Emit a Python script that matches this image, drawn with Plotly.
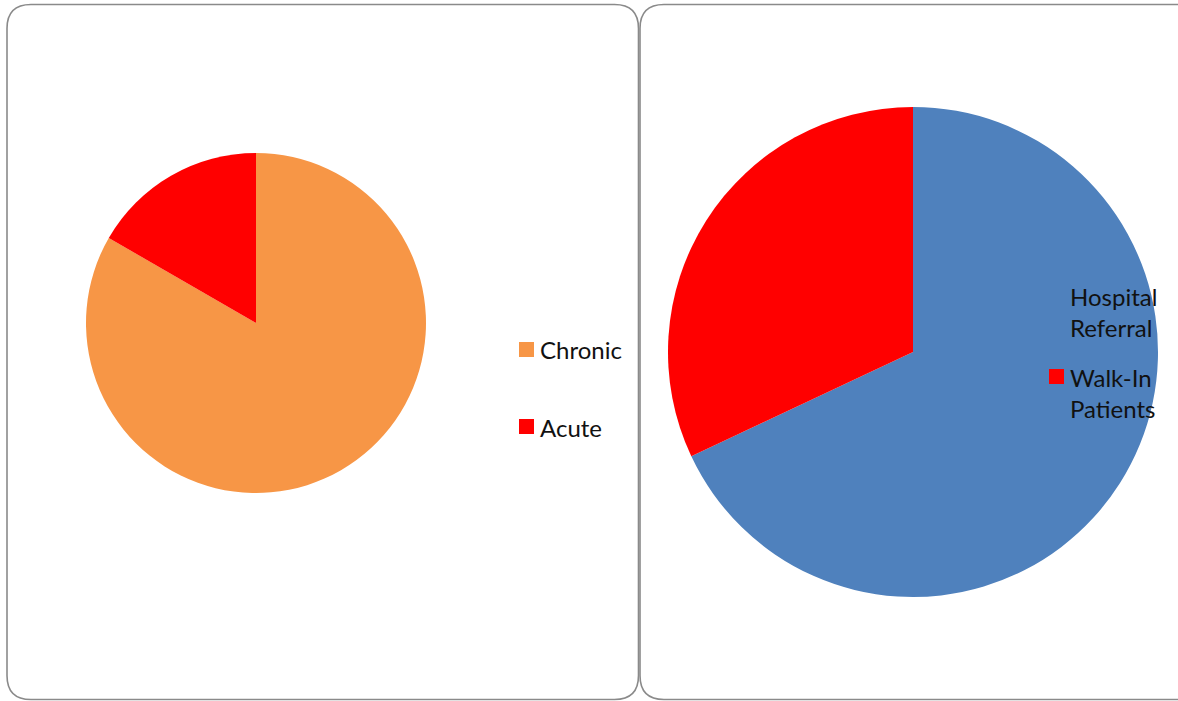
import plotly.graph_objects as go

W, H = 1178, 701

# Patient type split
type_labels = ["Chronic", "Acute"]
type_values = [25, 5]
type_colors = ["#F79646", "#FF0000"]

# Admission source split
source_labels = ["Hospital Referral", "Walk-In Patients"]
source_values = [68, 32]
source_colors = ["#4F81BD", "#FF0000"]

FONT = "Lato"


def px_x(x):
    return x / W


def px_y(y):
    return 1 - y / H


def pie_domain(cx, cy, r):
    return dict(x=[px_x(cx - r), px_x(cx + r)], y=[px_y(cy + r), px_y(cy - r)])


fig = go.Figure()

fig.add_trace(go.Pie(
    labels=type_labels, values=type_values,
    marker=dict(colors=type_colors, line=dict(width=0)),
    sort=False, direction="clockwise", rotation=0,
    textinfo="none", hoverinfo="label+value+percent",
    domain=pie_domain(256, 323, 170), showlegend=False,
))

fig.add_trace(go.Pie(
    labels=source_labels, values=source_values,
    marker=dict(colors=source_colors, line=dict(width=0)),
    sort=False, direction="clockwise", rotation=0,
    textinfo="none", hoverinfo="label+value+percent",
    domain=pie_domain(913, 352, 245), showlegend=False,
))


def rounded_panel(x0, y0, x1, y1, r):
    X0, X1 = px_x(x0), px_x(x1)
    Y0, Y1 = px_y(y0), px_y(y1)
    rx, ry = r / W, r / H
    path = (
        f"M {X0 + rx},{Y0} L {X1 - rx},{Y0} Q {X1},{Y0} {X1},{Y0 - ry} "
        f"L {X1},{Y1 + ry} Q {X1},{Y1} {X1 - rx},{Y1} "
        f"L {X0 + rx},{Y1} Q {X0},{Y1} {X0},{Y1 + ry} "
        f"L {X0},{Y0 - ry} Q {X0},{Y0} {X0 + rx},{Y0} Z"
    )
    return dict(type="path", xref="paper", yref="paper", path=path,
                line=dict(color="#8a8a8a", width=1.6), layer="below")


shapes = [
    rounded_panel(7, 4.5, 638.5, 699.5, 24),
    rounded_panel(640, 4.5, 1200, 699.5, 24),
]
annotations = []


def legend_entry(sq_x, sq_y, text_x, text_y, color, lines):
    shapes.append(dict(type="rect", xref="paper", yref="paper",
                       x0=px_x(sq_x), x1=px_x(sq_x + 15),
                       y0=px_y(sq_y + 15), y1=px_y(sq_y),
                       fillcolor=color, line=dict(width=0), layer="above"))
    annotations.append(dict(
        x=px_x(text_x), y=px_y(text_y), xref="paper", yref="paper",
        xanchor="left", yanchor="middle", align="left", showarrow=False,
        text="<br>".join(lines), font=dict(family=FONT, size=24, color="#111111"),
    ))


legend_entry(519, 342, 538, 349, type_colors[0], [type_labels[0]])
legend_entry(519, 419, 538, 427, type_colors[1], [type_labels[1]])
legend_entry(1049, 288, 1068, 312, source_colors[0], source_labels[0].split(" "))
legend_entry(1049, 369, 1068, 393, source_colors[1], source_labels[1].split(" "))

fig.update_layout(
    width=W, height=H,
    margin=dict(l=0, r=0, t=0, b=0),
    paper_bgcolor="white", plot_bgcolor="white",
    shapes=shapes, annotations=annotations,
    showlegend=False,
)

fig.write_html("out.html")
